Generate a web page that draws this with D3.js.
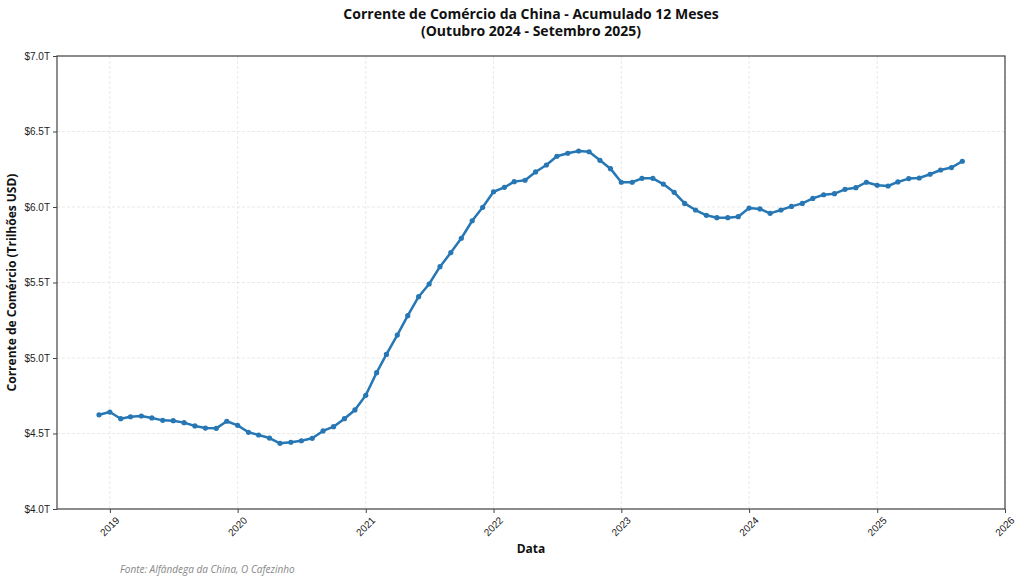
<!DOCTYPE html>
<html>
<head>
<meta charset="utf-8">
<script src="https://cdn.jsdelivr.net/npm/d3@7"></script>
<style>
  body { margin: 0; background: #fff; }
  svg { display: block; font-family: "Open Sans", "Noto Sans", sans-serif; }
</style>
</head>
<body>
<div id="d3"></div>
<script>
// monthly 12-month accumulated trade, Dec 2018 .. Sep 2025
const start_month = "2018-12";
const trade_values = [
    4.624,
    4.642, 4.598, 4.611, 4.616, 4.603, 4.587, 4.585, 4.572, 4.550, 4.536, 4.534, 4.581,
    4.554, 4.508, 4.490, 4.470, 4.435, 4.442, 4.452, 4.468, 4.517, 4.545, 4.598, 4.656,
    4.753, 4.903, 5.024, 5.152, 5.280, 5.406, 5.490, 5.605, 5.698, 5.793, 5.909, 5.998,
    6.101, 6.130, 6.168, 6.177, 6.232, 6.278, 6.336, 6.356, 6.371, 6.366, 6.309, 6.254,
    6.164, 6.164, 6.190, 6.190, 6.152, 6.097, 6.024, 5.980, 5.945, 5.929, 5.929, 5.936,
    5.993, 5.987, 5.958, 5.980, 6.004, 6.024, 6.057, 6.081, 6.088, 6.117, 6.128, 6.164,
    6.144, 6.139, 6.166, 6.188, 6.192, 6.217, 6.245, 6.261, 6.303
];
const y_ticks = [4.0, 4.5, 5.0, 5.5, 6.0, 6.5, 7.0];
const x_tick_years = [2019, 2020, 2021, 2022, 2023, 2024, 2025, 2026];

const title_lines = ["Corrente de Comércio da China - Acumulado 12 Meses", "(Outubro 2024 - Setembro 2025)"];
const x_label = "Data";
const y_label = "Corrente de Comércio (Trilhões USD)";
const source_note = "Fonte: Alfândega da China, O Cafezinho";

const width = 1024;
const height = 583;
const margin = { top: 56, right: 19, bottom: 74, left: 57 };

const parse_month = d3.timeParse("%Y-%m");
const first_date = parse_month(start_month);
const data = trade_values.map((v, i) => ({ date: d3.timeMonth.offset(first_date, i), value: v }));

const svg = d3.select("#d3")
    .append("svg")
    .attr("width", width)
    .attr("height", height);

const x = d3.scaleTime()
    .domain([new Date(2018, 7, 3), new Date(2026, 0, 1)])
    .range([margin.left, width - margin.right]);

const y = d3.scaleLinear()
    .domain([4.0, 7.0])
    .range([height - margin.bottom, margin.top]);

const x_ticks = x_tick_years.map(yr => new Date(yr, 0, 1));

// grid
svg.append("g")
    .selectAll("line")
    .data(x_ticks)
    .enter()
    .append("line")
    .attr("x1", d => x(d)).attr("x2", d => x(d))
    .attr("y1", margin.top).attr("y2", height - margin.bottom)
    .attr("stroke", "#e3e3e3")
    .attr("stroke-dasharray", "3,2")
    .attr("stroke-width", 0.8);

svg.append("g")
    .selectAll("line")
    .data(y_ticks)
    .enter()
    .append("line")
    .attr("x1", margin.left).attr("x2", width - margin.right)
    .attr("y1", d => y(d)).attr("y2", d => y(d))
    .attr("stroke", "#e3e3e3")
    .attr("stroke-dasharray", "3,2")
    .attr("stroke-width", 0.8);

// axes
const x_axis = svg.append("g")
    .attr("transform", `translate(0,${height - margin.bottom})`)
    .call(d3.axisBottom(x).tickValues(x_ticks).tickFormat(d3.timeFormat("%Y")).tickSize(4).tickSizeOuter(0));

x_axis.selectAll("text")
    .attr("font-size", 10)
    .attr("fill", "#222")
    .attr("text-anchor", "middle")
    .attr("dy", null)
    .attr("y", null)
    .attr("transform", function () {
        return "translate(0,18) rotate(-45)";
    })
    .attr("dominant-baseline", "middle");

const y_axis = svg.append("g")
    .attr("transform", `translate(${margin.left},0)`)
    .call(d3.axisLeft(y).tickValues(y_ticks).tickFormat(d => "$" + d3.format(".1f")(d) + "T").tickSize(4).tickSizeOuter(0));

y_axis.selectAll("text")
    .attr("font-size", 10)
    .attr("fill", "#222");

svg.selectAll(".domain").remove();
svg.selectAll(".tick line").attr("stroke", "#444");

// frame
svg.append("rect")
    .attr("x", margin.left)
    .attr("y", margin.top)
    .attr("width", width - margin.left - margin.right)
    .attr("height", height - margin.top - margin.bottom)
    .attr("fill", "none")
    .attr("stroke", "#444")
    .attr("stroke-width", 1.2);

// series
const line = d3.line()
    .x(d => x(d.date))
    .y(d => y(d.value));

svg.append("path")
    .datum(data)
    .attr("d", line)
    .attr("fill", "none")
    .attr("stroke", "#2677b4")
    .attr("stroke-width", 2.5)
    .attr("stroke-linejoin", "round");

svg.append("g")
    .selectAll("circle")
    .data(data)
    .enter()
    .append("circle")
    .attr("cx", d => x(d.date))
    .attr("cy", d => y(d.value))
    .attr("r", 2.6)
    .attr("fill", "#2677b4");

// titles
const title = svg.append("text")
    .attr("x", (margin.left + width - margin.right) / 2)
    .attr("text-anchor", "middle")
    .attr("font-size", 14)
    .attr("font-weight", "bold")
    .attr("fill", "#111");

title.selectAll("tspan")
    .data(title_lines)
    .enter()
    .append("tspan")
    .attr("x", (margin.left + width - margin.right) / 2)
    .attr("y", (d, i) => 19 + i * 17)
    .text(d => d);

svg.append("text")
    .attr("x", (margin.left + width - margin.right) / 2)
    .attr("y", 553)
    .attr("text-anchor", "middle")
    .attr("font-size", 12)
    .attr("font-weight", "bold")
    .attr("fill", "#111")
    .text(x_label);

svg.append("text")
    .attr("transform", `translate(16,${(margin.top + height - margin.bottom) / 2}) rotate(-90)`)
    .attr("text-anchor", "middle")
    .attr("font-size", 12)
    .attr("font-weight", "bold")
    .attr("fill", "#111")
    .text(y_label);

svg.append("text")
    .attr("x", 120)
    .attr("y", 573)
    .attr("font-size", 10)
    .attr("font-style", "italic")
    .attr("fill", "#888")
    .text(source_note);
</script>
</body>
</html>
